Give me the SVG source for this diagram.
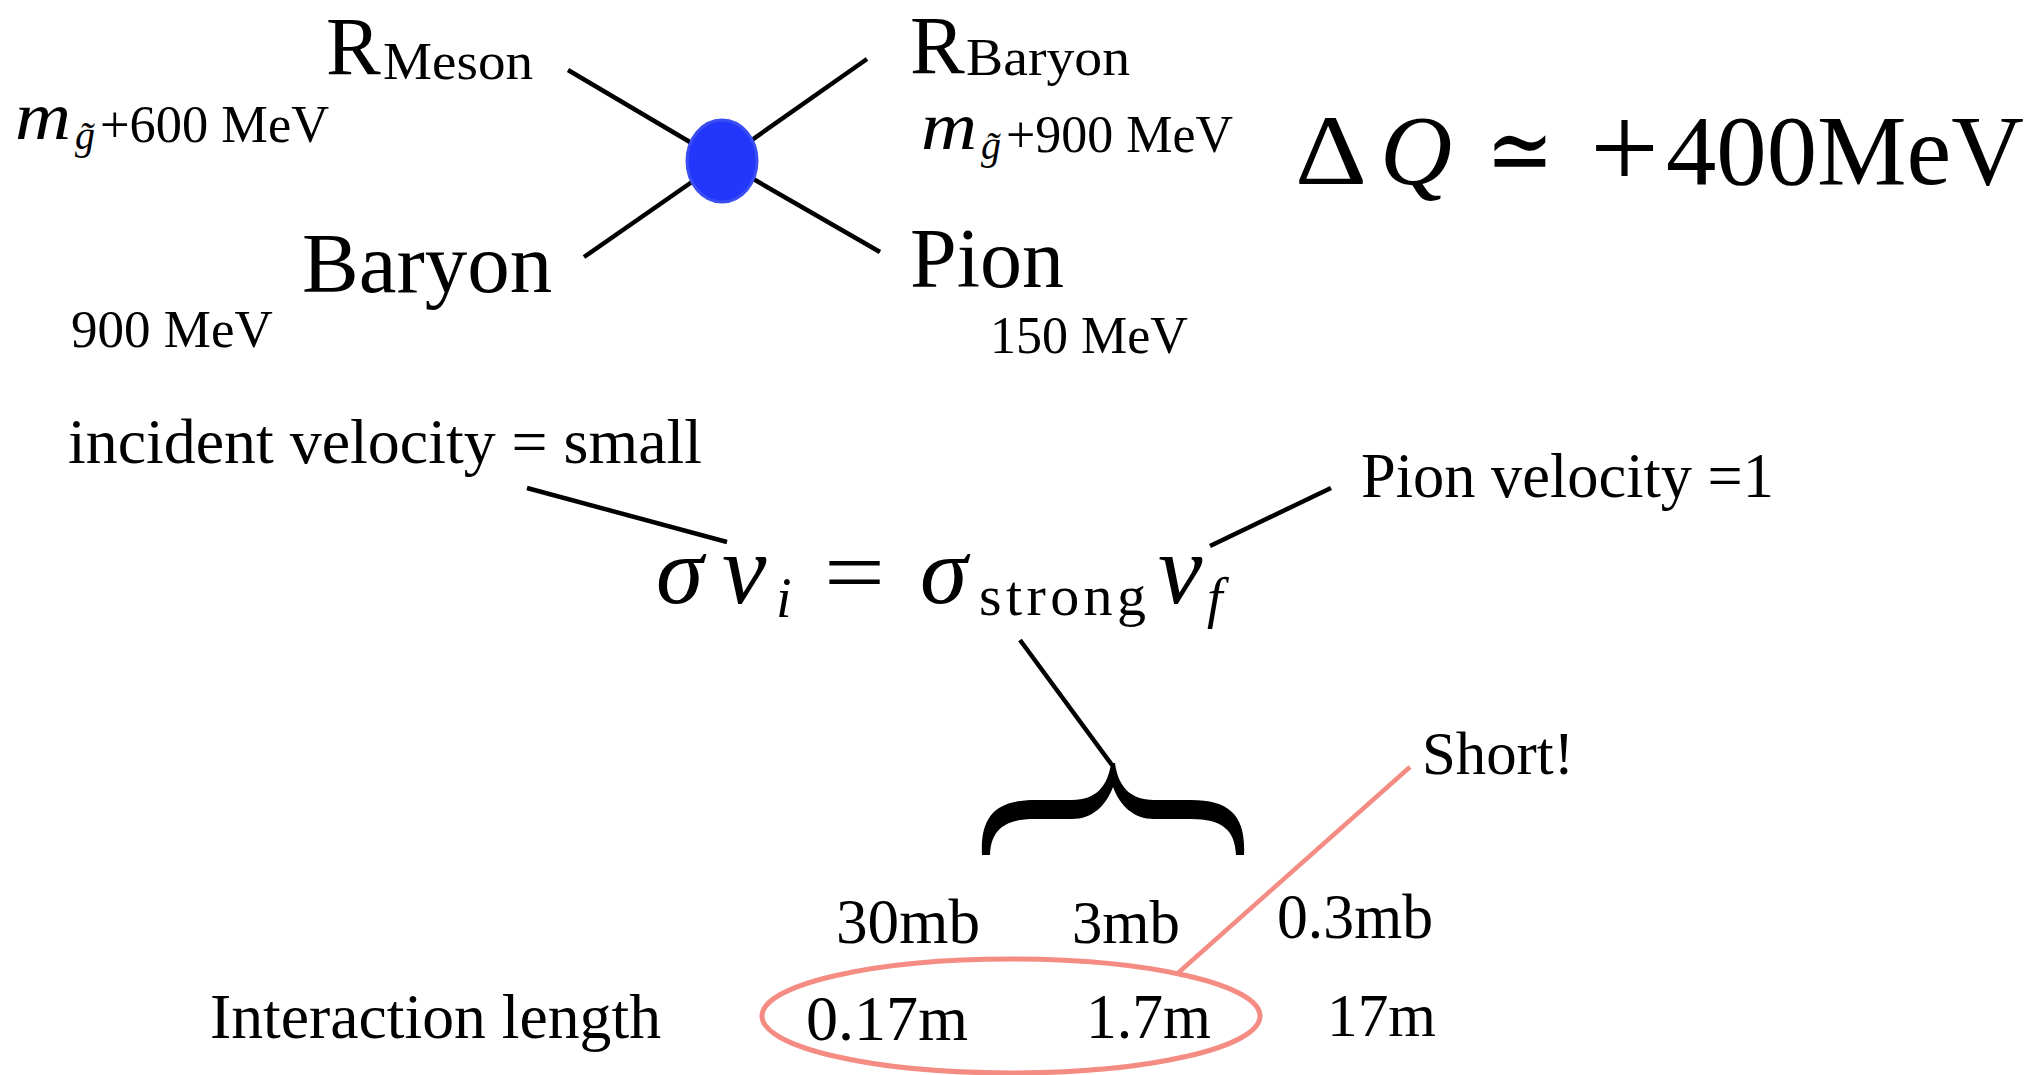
<svg xmlns="http://www.w3.org/2000/svg" width="2029" height="1075" viewBox="0 0 2029 1075">
<style>
text { font-family: "Liberation Serif", "Times New Roman", "DejaVu Serif", serif; fill: #000; }
.it { font-style: italic; }
.ln { stroke: #000; stroke-width: 4.5; fill: none; }
.sal { stroke: #f48c83; stroke-width: 4.5; fill: none; }
</style>
<rect width="2029" height="1075" fill="#fff"/>

<g id="connectors">
  <line class="ln" x1="568" y1="70" x2="722" y2="161"/>
  <line class="ln" x1="867" y1="59" x2="722" y2="161"/>
  <line class="ln" x1="584" y1="257" x2="722" y2="161"/>
  <line class="ln" x1="880" y1="252" x2="722" y2="161"/>
  <line class="ln" x1="527" y1="488" x2="727" y2="542"/>
  <line class="ln" x1="1331" y1="488" x2="1210" y2="546"/>
  <line class="ln" x1="1020" y1="640" x2="1112" y2="765"/>
  <line class="sal" x1="1410" y1="767" x2="1178" y2="973"/>
</g>

<g id="node-vertex">
  <ellipse cx="722" cy="161" rx="35" ry="41" fill="#2236fc" stroke="#3a4ef2" stroke-width="3"/>
</g>

<g id="node-rmeson">
  <text x="326" y="74" font-size="82">R</text>
  <text x="383" y="79" font-size="52" textLength="150" lengthAdjust="spacingAndGlyphs">Meson</text>
</g>
<g id="node-rmeson-mass">
  <text class="it" x="15" y="139" font-size="68" textLength="56" lengthAdjust="spacingAndGlyphs">m</text>
  <text class="it" x="75" y="149" font-size="40">g̃</text>
  <text x="100" y="142" font-size="52" textLength="229" lengthAdjust="spacingAndGlyphs">+600 MeV</text>
</g>

<g id="node-rbaryon">
  <text x="910" y="73" font-size="82">R</text>
  <text x="966" y="75" font-size="52" textLength="164" lengthAdjust="spacingAndGlyphs">Baryon</text>
</g>
<g id="node-rbaryon-mass">
  <text class="it" x="921" y="149" font-size="68" textLength="56" lengthAdjust="spacingAndGlyphs">m</text>
  <text class="it" x="981" y="159" font-size="40">g̃</text>
  <text x="1006" y="152" font-size="52" textLength="227" lengthAdjust="spacingAndGlyphs">+900 MeV</text>
</g>

<g id="node-baryon">
  <text x="302" y="292" font-size="85">Baryon</text>
  <text x="71" y="347" font-size="53">900 MeV</text>
</g>

<g id="node-pion">
  <text x="910" y="287" font-size="84">Pion</text>
  <text x="990" y="353" font-size="52">150 MeV</text>
</g>

<g id="node-deltaq">
  <text x="1295" y="184" font-size="100" textLength="72" lengthAdjust="spacingAndGlyphs">Δ</text>
  <text class="it" x="1380" y="184" font-size="100" textLength="72" lengthAdjust="spacingAndGlyphs">Q</text>
  <text x="1486" y="184" font-size="100" textLength="68" lengthAdjust="spacingAndGlyphs">≃</text>
  <text x="1590" y="188" font-size="120" textLength="69" lengthAdjust="spacingAndGlyphs">+</text>
  <text x="1666" y="184" font-size="100" textLength="358" lengthAdjust="spacingAndGlyphs">400MeV</text>
</g>

<g id="node-incident">
  <text x="68" y="463" font-size="64" textLength="634" lengthAdjust="spacingAndGlyphs">incident velocity = small</text>
</g>

<g id="node-pionvel">
  <text x="1361" y="497" font-size="63" textLength="413" lengthAdjust="spacingAndGlyphs">Pion velocity =1</text>
</g>

<g id="node-equation">
  <text class="it" x="656" y="603" font-size="96">σ</text>
  <text class="it" x="722" y="603" font-size="100">v</text>
  <text class="it" x="776" y="617" font-size="56">i</text>
  <text x="824" y="603" font-size="92" textLength="61" lengthAdjust="spacingAndGlyphs">=</text>
  <text class="it" x="920" y="603" font-size="96">σ</text>
  <text x="979" y="615" font-size="58" textLength="167" lengthAdjust="spacing">strong</text>
  <text class="it" x="1158" y="603" font-size="100">v</text>
  <text class="it" x="1207" y="617" font-size="56">f</text>
</g>

<g id="node-brace">
  <path fill="#000" d="M982,855 C980,816 996,800 1035,800 L1072,800 C1096,800 1108,786 1111,763 L1115,763 C1118,786 1130,800 1154,800 L1191,800 C1230,800 1246,816 1244,855 L1236,855 C1235,830 1222,819 1191,819 L1154,819 C1134,819 1120,806 1113,787 C1106,806 1092,819 1072,819 L1035,819 C1004,819 991,830 990,855 Z"/>
</g>

<g id="node-short">
  <text x="1422" y="774" font-size="62" textLength="152" lengthAdjust="spacingAndGlyphs">Short!</text>
</g>

<g id="node-cross-sections">
  <text x="836" y="943" font-size="63" textLength="144" lengthAdjust="spacingAndGlyphs">30mb</text>
  <text x="1072" y="943" font-size="62" textLength="108" lengthAdjust="spacingAndGlyphs">3mb</text>
  <text x="1277" y="938" font-size="63" textLength="156" lengthAdjust="spacingAndGlyphs">0.3mb</text>
</g>

<g id="node-interaction">
  <text x="210" y="1038" font-size="64" textLength="451" lengthAdjust="spacingAndGlyphs">Interaction length</text>
  <text x="806" y="1040" font-size="64" textLength="162" lengthAdjust="spacingAndGlyphs">0.17m</text>
  <text x="1086" y="1038" font-size="64" textLength="125" lengthAdjust="spacingAndGlyphs">1.7m</text>
  <text x="1327" y="1036" font-size="62" textLength="109" lengthAdjust="spacingAndGlyphs">17m</text>
</g>

<g id="node-highlight">
  <ellipse cx="1011" cy="1016" rx="249" ry="57" fill="none" stroke="#f48c83" stroke-width="5"/>
</g>
</svg>
